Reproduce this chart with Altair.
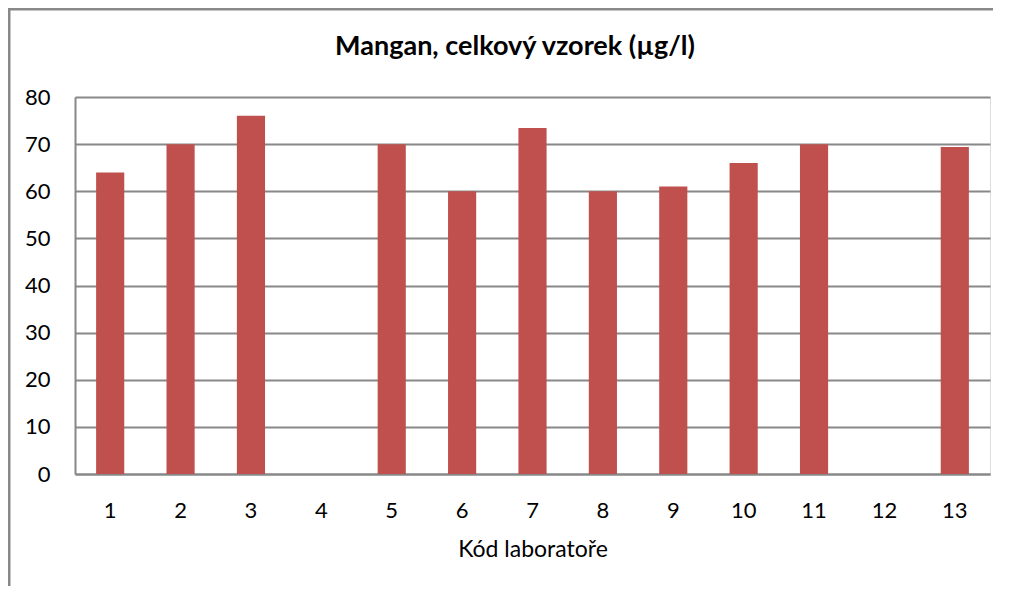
import altair as alt
import pandas as pd

labs = [str(i) for i in range(1, 14)]
values = [64, 70, 76, None, 70, 60, 73.4, 60, 61, 66, 70, None, 69.4]
y_ticks = [0, 10, 20, 30, 40, 50, 60, 70, 80]
chart_title = "Mangan, celkový vzorek (µg/l)"
x_title = "Kód laboratoře"

df = pd.DataFrame({"lab": labs, "value": values})

W, H = 915, 377
PL, PT, PR, PB = 67, 89, 3, 112
FONT = "Lato"
GRAY = "#888888"

bars = alt.Chart(df).mark_bar(color="#C0504D").encode(
    x=alt.X("lab:N", sort=labs,
            scale=alt.Scale(domain=labs, paddingInner=0.6, paddingOuter=0.3),
            axis=alt.Axis(title=x_title, labelAngle=0, ticks=False, tickSize=0,
                          labelPadding=26, titlePadding=17, domainColor=GRAY,
                          domainWidth=2, labelFont=FONT, labelFontSize=22,
                          labelColor="black", titleFont=FONT, titleFontSize=23,
                          titleFontWeight="normal", titleColor="black")),
    y=alt.Y("value:Q",
            scale=alt.Scale(domain=[0, 80], nice=False),
            axis=alt.Axis(values=y_ticks, title=None, grid=True, gridColor=GRAY,
                          gridWidth=2, ticks=False, tickSize=0, labelPadding=25,
                          domainColor=GRAY, domainWidth=2, labelFont=FONT,
                          labelFontSize=22, labelColor="black")),
)

title_df = pd.DataFrame({"t": [chart_title]})
title = alt.Chart(title_df).mark_text(
    font=FONT, fontSize=27, fontWeight="bold", color="black",
    align="center", baseline="alphabetic"
).encode(text="t:N", x=alt.value(440), y=alt.value(-42))

border_df = pd.DataFrame({"a": [0]})
left_border = alt.Chart(border_df).mark_rule(color=GRAY, strokeWidth=3).encode(
    x=alt.value(-PL + 1), y=alt.value(-PT), y2=alt.value(H + PB))
top_border = alt.Chart(border_df).mark_rule(color=GRAY, strokeWidth=3).encode(
    x=alt.value(-PL), x2=alt.value(W + PR), y=alt.value(-PT + 1))

chart = alt.layer(bars, title, left_border, top_border).properties(
    width=W, height=H,
    autosize=alt.AutoSizeParams(type="none"),
    padding={"left": PL, "top": PT, "right": PR, "bottom": PB},
).configure_view(strokeWidth=0).configure(background="white")

chart.save("out.html", embed_options={"renderer": "svg", "actions": False})
